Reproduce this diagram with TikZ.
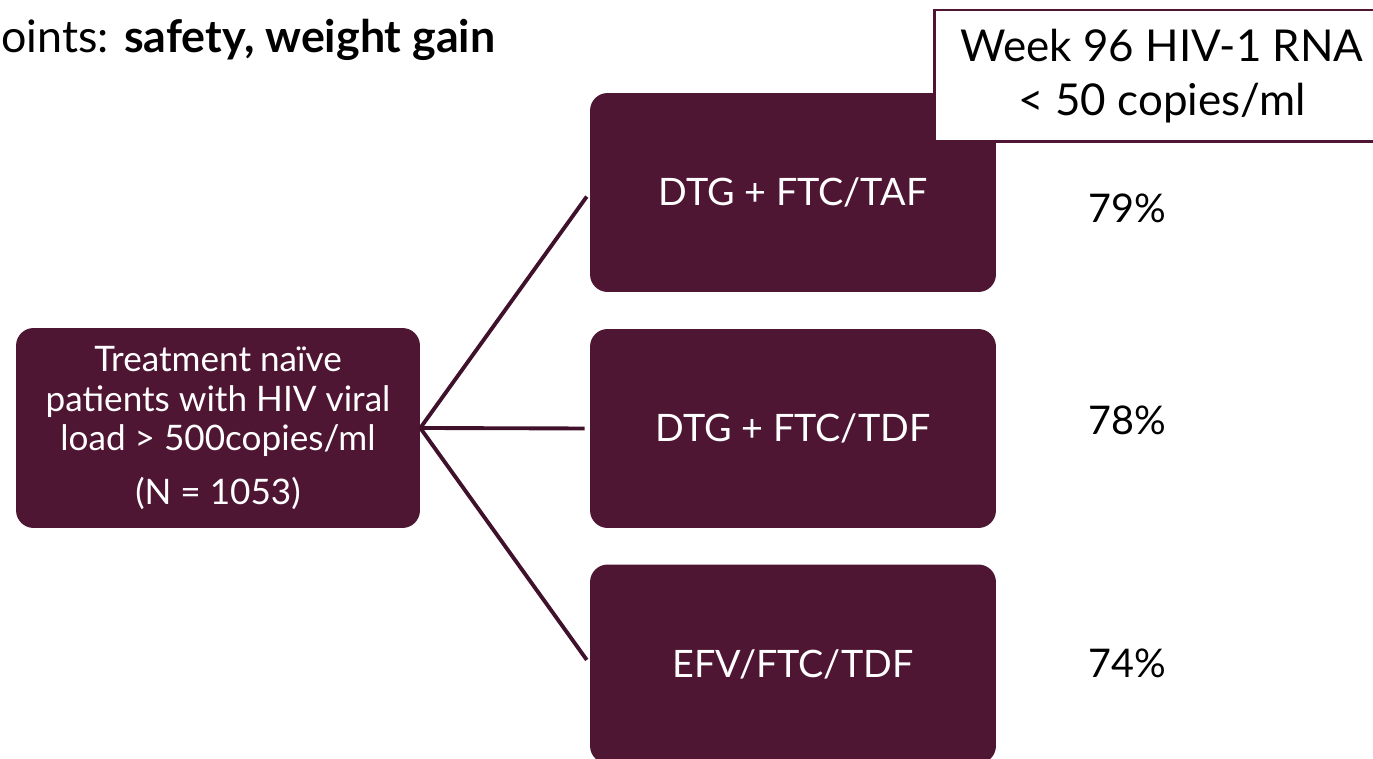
\documentclass[tikz,border=0pt]{standalone}
\usepackage{fontspec}
\setmainfont{Lato}
\usetikzlibrary{positioning}

\definecolor{winebox}{HTML}{4F1634}
\definecolor{wineline}{HTML}{40112B}

\begin{document}
\begin{tikzpicture}
  [
    x = 0.02cm, y = -0.02cm,
    arm/.style = {fill=winebox,text=white,rounded corners=10pt,minimum width=8.12cm,minimum height=3.98cm,align=center,inner sep=0,font=\fontsize{21.5}{25}\selectfont},
    source/.style = {arm,minimum width=8.08cm,minimum height=4cm,font=\fontsize{20}{22.7}\selectfont},
    result/.style = {font=\fontsize{22.5}{26}\selectfont},
    outcome/.style = {draw=winebox,line width=1.7pt,fill=white,minimum width=9.1cm,minimum height=2.64cm,align=center,inner sep=0,font=\fontsize{25}{31}\selectfont},
    link/.style = {draw=wineline,line width=2.2pt,shorten >=0.1cm},
  ]

  \useasboundingbox (0,0) rectangle (1373,759);

  \node[anchor=base west,inner sep=0,font=\fontsize{25.5}{29}\selectfont] (title) at (1,53) {oints: \textbf{safety, weight gain}};

  \node[source] (naive) at (218,428) {Treatment naïve\\patients with HIV viral\\load > 500copies/ml\\[8pt](N = 1053)};

  \node[arm] (taf) at (793,192.5) {DTG + FTC/TAF};
  \node[arm] (tdf) at (793,428.5) {DTG + FTC/TDF};
  \node[arm] (efv) at (793,664)   {EFV/FTC/TDF};

  \draw[link] (naive.east) -- (taf.west);
  \draw[link] (naive.east) -- (tdf.west);
  \draw[link] (naive.east) -- (efv.west);

  \node[result] (taf pct) at (1127,208) {79\%};
  \node[result] (tdf pct) at (1127,420) {78\%};
  \node[result] (efv pct) at (1127,663) {74\%};

  \node[outcome] (week) at (1162,76) {\raisebox{-4pt}{Week 96 HIV-1 RNA}\\\raisebox{-4pt}{< 50 copies/ml}};

\end{tikzpicture}
\end{document}
